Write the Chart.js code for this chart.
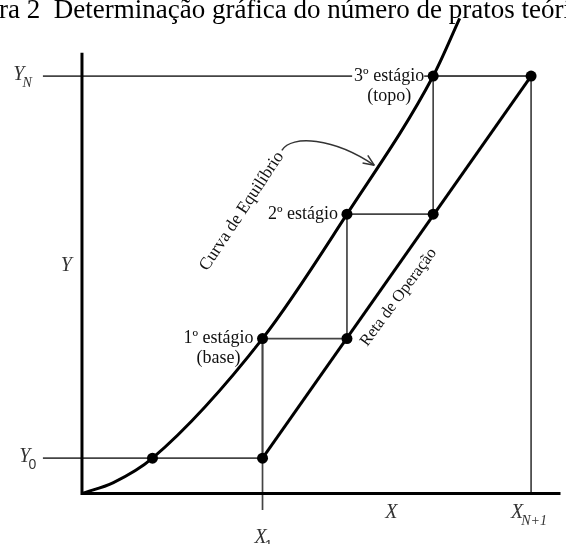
<!DOCTYPE html>
<html>
<head>
<meta charset="utf-8">
<script src="https://cdn.jsdelivr.net/npm/chart.js@4/dist/chart.umd.min.js"></script>
<style>
  html, body { margin: 0; padding: 0; background: #fff; overflow: hidden; }
  #wrap { width: 566px; height: 544px; }
</style>
</head>
<body>
<div id="wrap"><canvas id="c" width="566" height="544"></canvas></div>
<script>
// Equilibrium curve Y = f(X)
const eqX = [0, 0.070, 0.157, 0.402, 0.590, 0.782, 0.841];
const eqY = [0, 0.026, 0.0845, 0.371, 0.669, 1.000, 1.138];

// Points on the operating line (bottom end, one per stage, top end)
const opX = [0.402, 0.590, 0.782, 1.000];
const opY = [0.0845, 0.371, 0.669, 1.000];

// Stages on the equilibrium curve: 1º (base), 2º, 3º (topo)
const stageX = [0.402, 0.590, 0.782];
const stageY = [0.371, 0.669, 1.000];
const stageNames = ['1º estágio', '2º estágio', '3º estágio'];
const stageNotes = ['(base)', '', '(topo)'];

// Terminal compositions
const Y0 = 0.0845, YN = 1.0, X1 = 0.402, XN1 = 1.0;
const eqAtY0 = 0.157;

const titleText = 'Figura 2  Determinação gráfica do número de pratos teóricos';
const axisNames = { x: 'X', y: 'Y' };

// Staircase between operating line and equilibrium curve
const stairs = [{ x: opX[0], y: opY[0] }];
stageX.forEach((sx, i) => {
  stairs.push({ x: sx, y: stageY[i] });
  stairs.push({ x: opX[i + 1], y: opY[i + 1] });
});

const XMIN = -0.1703, XMAX = 1.0655, YMIN = -0.108, YMAX = 1.169;
const GUIDE_L = -0.087;

const pts = (xs, ys) => xs.map((x, i) => ({ x, y: ys[i] }));
const grey = '#444';

const line = (data, color, width, extra) => Object.assign({
  data, showLine: true, borderColor: color, borderWidth: width,
  pointRadius: 0, fill: false, tension: 0
}, extra || {});

const datasets = [
  // dots (drawn on top)
  {
    data: [{ x: eqAtY0, y: Y0 }, ...pts(opX, opY), ...pts(stageX, stageY)],
    showLine: false, pointRadius: 5.5, pointBackgroundColor: '#000',
    pointBorderColor: '#000', pointBorderWidth: 0
  },
  line(pts(eqX, eqY), '#000', 3, { cubicInterpolationMode: 'monotone' }),
  line([{ x: opX[0], y: opY[0] }, { x: opX[3], y: opY[3] }], '#000', 3),
  // axes
  line([{ x: 0, y: 1.056 }, { x: 0, y: 0 }, { x: XMAX + 0.01, y: 0 }], '#000', 3),
  // staircase
  line(stairs, grey, 1.7),
  // guide lines for Y0, YN, X1, X(N+1)
  line([{ x: GUIDE_L, y: Y0 }, { x: X1, y: Y0 }], grey, 1.7),
  line([{ x: GUIDE_L, y: YN }, { x: XN1, y: YN }], grey, 1.7),
  line([{ x: X1, y: stageY[0] }, { x: X1, y: -0.040 }], grey, 1.7),
  line([{ x: XN1, y: YN }, { x: XN1, y: 0 }], grey, 1.7)
];

const SERIF = '"Liberation Serif", "Times New Roman", serif';
const SANS = '"Liberation Sans", Arial, sans-serif';

const labelsPlugin = {
  id: 'labels',
  afterDraw(chart) {
    const ctx = chart.ctx;
    const xs = chart.scales.x, ys = chart.scales.y;
    const px = v => xs.getPixelForValue(v);
    const py = v => ys.getPixelForValue(v);
    ctx.save();

    // caption across the top
    ctx.font = '27px ' + SERIF;
    ctx.fillStyle = '#000';
    ctx.textBaseline = 'alphabetic';
    ctx.textAlign = 'left';
    const lead = ctx.measureText('Figu').width;
    ctx.fillText(titleText, -lead - 1, 18);

    // symbol (centred at cx, cy) with subscript to its right
    const sym = (main, sub, cx, cy, subFont) => {
      ctx.fillStyle = '#333';
      ctx.textBaseline = 'middle';
      ctx.textAlign = 'center';
      ctx.font = 'italic 20px ' + SERIF;
      const w1 = ctx.measureText(main).width;
      ctx.fillText(main, cx, cy);
      if (sub) {
        ctx.textAlign = 'left';
        ctx.font = subFont;
        ctx.fillText(sub, cx + w1 / 2 - 2, cy + 8);
      }
    };
    sym('Y', 'N', px(GUIDE_L) - 24, py(YN) - 1, 'italic 14px ' + SERIF);
    sym('Y', '0', px(GUIDE_L) - 18, py(Y0) - 1, '14px ' + SANS);
    sym('X', '1', px(X1) - 2, py(-0.095) + 5, '14px ' + SANS);
    sym('X', 'N+1', px(XN1) - 14, py(-0.047), 'italic 14px ' + SERIF);
    sym(axisNames.x, '', px(0.689), py(-0.047));
    sym(axisNames.y, '', px(-0.035), py(0.546));

    // stage labels
    ctx.font = '18px ' + SERIF;
    ctx.textBaseline = 'middle';
    stageX.forEach((sx, i) => {
      const x = px(sx) - 9, y = py(stageY[i]);
      ctx.textAlign = 'right';
      const w = ctx.measureText(stageNames[i]).width;
      ctx.fillStyle = '#fff';
      ctx.fillRect(x - w - 2, y - 9, w + 2, 18);
      ctx.fillStyle = '#111';
      ctx.fillText(stageNames[i], x, y);
      if (stageNotes[i]) {
        ctx.textAlign = 'center';
        ctx.fillText(stageNotes[i], x - w / 2, y + 20);
      }
    });

    // names written along the curve and the line
    const along = (text, cx, cy, ang, size) => {
      ctx.save();
      ctx.translate(cx, cy);
      ctx.rotate(ang * Math.PI / 180);
      ctx.font = size + 'px ' + SERIF;
      ctx.fillStyle = '#111';
      ctx.textAlign = 'center';
      ctx.textBaseline = 'middle';
      ctx.fillText(text, 0, 0);
      ctx.restore();
    };
    along('Curva de Equilíbrio', px(0.356), py(0.676), -56.5, 17.5);
    along('Reta de Operação', px(0.705), py(0.470), -53.5, 16.5);

    // pointer from the curve name to the curve
    const a0 = [px(0.445), py(0.822)];
    const c1 = [px(0.467), py(0.860)];
    const c2 = [px(0.560), py(0.852)];
    const a1 = [px(0.651), py(0.786)];
    ctx.strokeStyle = '#333';
    ctx.lineWidth = 1.5;
    ctx.beginPath();
    ctx.moveTo(a0[0], a0[1]);
    ctx.bezierCurveTo(c1[0], c1[1], c2[0], c2[1], a1[0], a1[1]);
    ctx.stroke();
    const ang = Math.atan2(a1[1] - c2[1], a1[0] - c2[0]);
    ctx.beginPath();
    [-0.4, 0.4].forEach(d => {
      ctx.moveTo(a1[0], a1[1]);
      ctx.lineTo(a1[0] - 12 * Math.cos(ang + d), a1[1] - 12 * Math.sin(ang + d));
    });
    ctx.stroke();

    ctx.restore();
  }
};

new Chart(document.getElementById('c'), {
  type: 'scatter',
  data: { datasets },
  options: {
    responsive: false,
    animation: false,
    devicePixelRatio: 1,
    layout: { padding: 0 },
    plugins: { legend: { display: false }, tooltip: { enabled: false } },
    scales: {
      x: { type: 'linear', min: XMIN, max: XMAX, display: false },
      y: { type: 'linear', min: YMIN, max: YMAX, display: false }
    }
  },
  plugins: [labelsPlugin]
});
</script>
</body>
</html>
